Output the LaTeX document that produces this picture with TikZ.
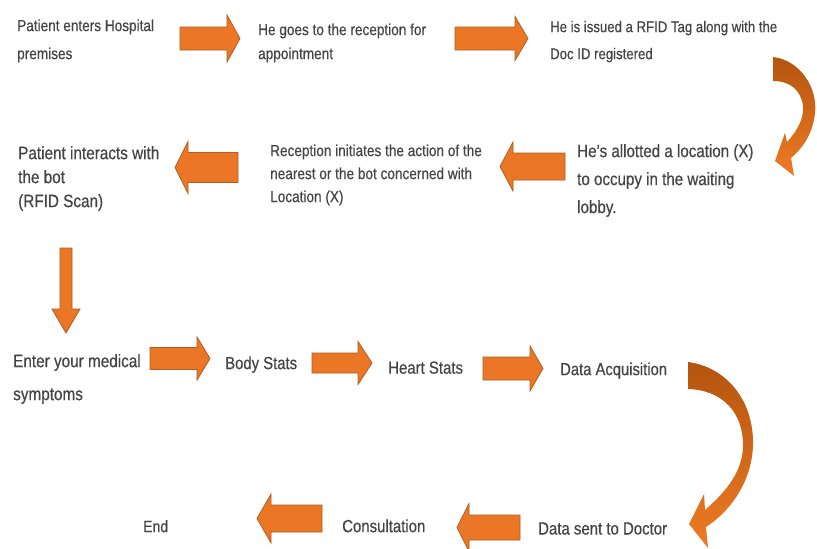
\documentclass[tikz,border=0pt]{standalone}
\usepackage{fontspec}
\setmainfont{Liberation Sans}[FakeStretch=0.85, FakeBold=0.4]
\usetikzlibrary{calc}

\definecolor{txtgray}{HTML}{444444}
\definecolor{arrorange}{HTML}{EB7626}
\definecolor{arrdark}{HTML}{B25E22}
\definecolor{curvetop}{HTML}{B4540F}
\definecolor{curvebot}{HTML}{EF7B24}

% horizontal block arrow: tail, tip, body half-height, head half-height, signed head length
\newcommand\rowarrow[5]{%
  \fill[blockfill] ($(#1)+(0,{0-(#3)})$) -- ($(#2)+({0-(#5)},{0-(#3)})$)
    -- ($(#2)+({0-(#5)},{0-(#4)})$) -- (#2) -- ($(#2)+({0-(#5)},#4)$)
    -- ($(#2)+({0-(#5)},#3)$) -- ($(#1)+(0,#3)$) -- cycle;}

\begin{document}
\begin{tikzpicture}[x=1pt,y=-1pt,
  txt/.style={anchor=north west, inner sep=0pt, align=left, text=txtgray},
  blockfill/.style={fill=arrorange, draw=arrdark, line width=0.8pt, line join=miter},
  curvefill/.style={top color=curvetop, bottom color=curvebot}]
\useasboundingbox (0,0) rectangle (817,549);
\fill[white] (0,0) rectangle (817,549);

% ---- step texts ----
\node[txt, font=\fontsize{16}{28}\selectfont] (t1) at (17,19.3) {Patient enters Hospital\\premises};
\node[txt, font=\fontsize{16}{24}\selectfont] (t2) at (258,23.3) {He goes to the reception for\\appointment};
\node[txt, font=\fontsize{15.5}{27}\selectfont] (t3) at (550,20.7) {He is issued a RFID Tag along with the\\Doc ID registered};
\node[txt, font=\fontsize{17.8}{28}\selectfont] (t4) at (577,144) {He's allotted a location (X)\\to occupy in the waiting\\lobby.};
\node[txt, font=\fontsize{16}{23}\selectfont] (t5) at (270,144.3) {Reception initiates the action of the\\nearest or the bot concerned with\\Location (X)};
\node[txt, font=\fontsize{18}{24}\selectfont] (t6) at (18,145.9) {Patient interacts with\\the bot\\(RFID Scan)};
\node[txt, font=\fontsize{18}{33}\selectfont] (t7) at (13,353.9) {Enter your medical\\symptoms};
\node[txt, font=\fontsize{17.5}{21}\selectfont] (t8) at (225,356.2) {Body Stats};
\node[txt, font=\fontsize{17.6}{21}\selectfont] (t9) at (388,361.2) {Heart Stats};
\node[txt, font=\fontsize{17.4}{21}\selectfont] (t10) at (560,362.3) {Data Acquisition};
\node[txt, font=\fontsize{17.6}{21}\selectfont] (t11) at (538,522.2) {Data sent to Doctor};
\node[txt, font=\fontsize{17.6}{21}\selectfont] (t12) at (342,519.2) {Consultation};
\node[txt, font=\fontsize{16.5}{20}\selectfont] (t13) at (143,520) {End};

% ---- arrow end points ----
\coordinate (a1t) at (180,38.5);  \coordinate (a1h) at (240,38.5);
\coordinate (a2t) at (455,38.5);  \coordinate (a2h) at (528,38.5);
\coordinate (a3t) at (565,166.5); \coordinate (a3h) at (500,166.5);
\coordinate (a4t) at (238,167.5); \coordinate (a4h) at (175,167.5);
\coordinate (a5t) at (66,248);    \coordinate (a5h) at (66,333);
\coordinate (a6t) at (150,358.5); \coordinate (a6h) at (210,358.5);
\coordinate (a7t) at (312,363);   \coordinate (a7h) at (372,363);
\coordinate (a8t) at (483,368.5); \coordinate (a8h) at (543,368.5);
\coordinate (a9t) at (520,527.5); \coordinate (a9h) at (457,527.5);
\coordinate (a10t) at (322,518.5); \coordinate (a10h) at (257,518.5);

% ---- straight block arrows ----
\rowarrow{a1t}{a1h}{11.5}{23.5}{13}
\rowarrow{a2t}{a2h}{11.5}{22}{13}
\rowarrow{a3t}{a3h}{13.5}{24.5}{-13}
\rowarrow{a4t}{a4h}{15}{26}{-13}
\rowarrow{a6t}{a6h}{11}{21.5}{13}
\rowarrow{a7t}{a7h}{10}{21.5}{14}
\rowarrow{a8t}{a8h}{11.5}{22.5}{13}
\rowarrow{a9t}{a9h}{12.5}{24}{-12}
\rowarrow{a10t}{a10h}{13.5}{24.5}{-14}

% downward block arrow
\fill[blockfill] ($(a5t)+(-6,0)$) -- ($(a5h)+(-6,-24)$) -- ($(a5h)+(-14,-24)$) -- (a5h)
  -- ($(a5h)+(14,-24)$) -- ($(a5h)+(6,-24)$) -- ($(a5t)+(6,0)$) -- cycle;

% ---- curved arrows ----
\coordinate (c1) at (773,57);
\shade[curvefill] (c1) .. controls (800,60) and (818,88) .. (815,113)
  .. controls (813,133) and (803,148) .. (791,158)
  -- (794,176) -- (775,161) -- (785,133) -- (787,142)
  .. controls (798,130) and (804,118) .. (803,106)
  .. controls (801,90) and (790,81) .. (773,81) -- cycle;

\coordinate (c2) at (688,362);
\shade[curvefill] (c2) .. controls (726,367) and (754,400) .. (753,445)
  .. controls (752,480) and (732,510) .. (706,527)
  -- (708,548) -- (689,524) -- (704,494) -- (705,510)
  .. controls (728,490) and (743,470) .. (743,445)
  .. controls (743,412) and (722,390) .. (688,389) -- cycle;
\end{tikzpicture}
\end{document}
